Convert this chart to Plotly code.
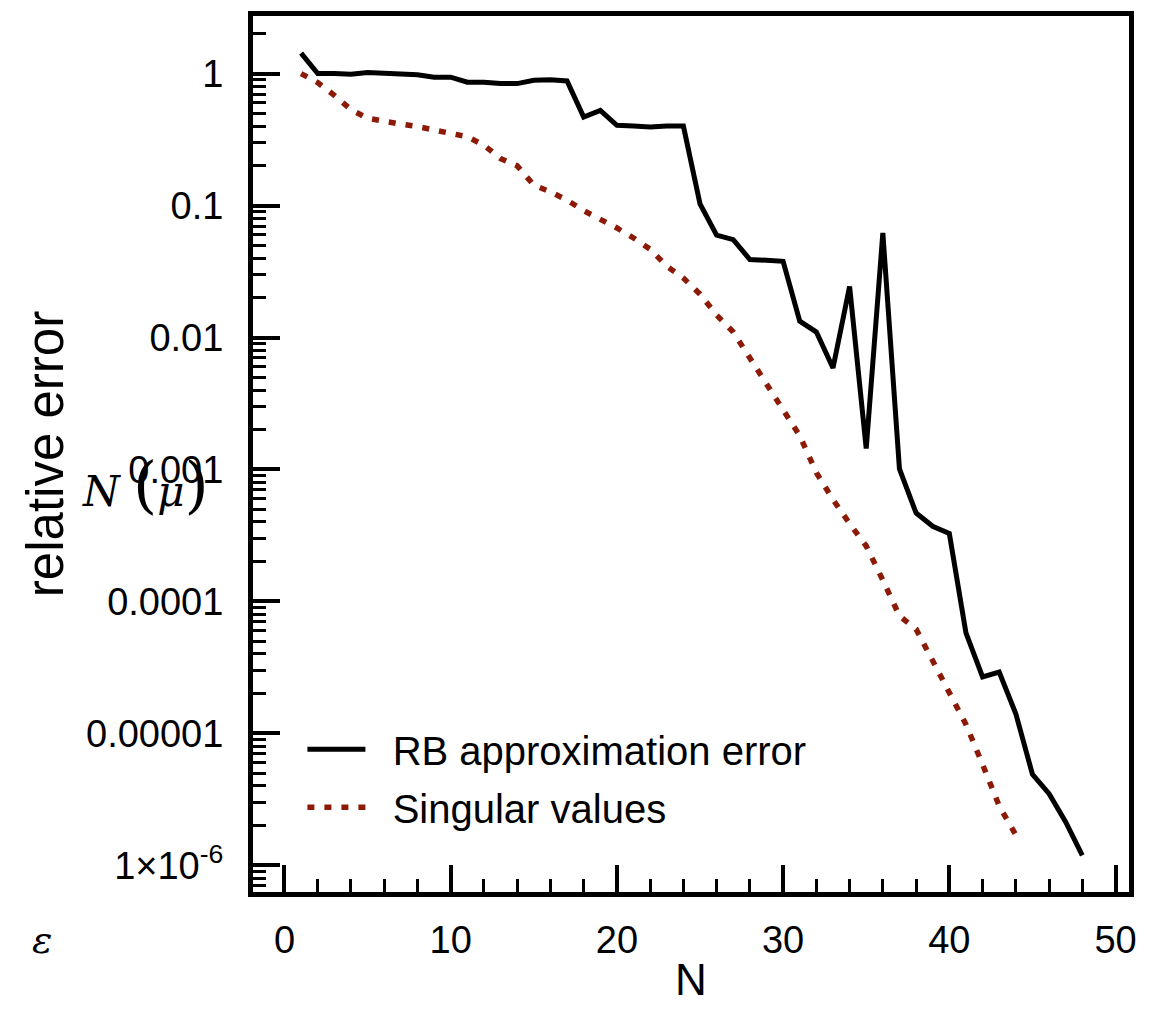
import plotly.graph_objects as go

# ---- data ----
n_rb = list(range(1, 49))
rb_error = [1.43, 1.0, 1.0, 0.99, 1.02, 1.01, 0.99, 0.98, 0.94, 0.94,
            0.86, 0.86, 0.84, 0.84, 0.89, 0.90, 0.88, 0.469, 0.527, 0.406,
            0.40, 0.394, 0.40, 0.40, 0.103, 0.0596, 0.0552, 0.039, 0.0385, 0.0378,
            0.0133, 0.0110, 0.00588, 0.0244, 0.00144, 0.0619, 0.00101, 4.68e-4, 3.71e-4, 3.27e-4,
            5.77e-5, 2.68e-5, 2.92e-5, 1.41e-5, 4.9e-6, 3.49e-6, 2.13e-6, 1.19e-6]

n_sv = list(range(1, 45))
singular_values = [1.0, 0.855, 0.684, 0.533, 0.459, 0.431, 0.414, 0.397, 0.376, 0.357,
                   0.332, 0.287, 0.227, 0.200, 0.143, 0.127, 0.110, 0.0916, 0.0794, 0.0676,
                   0.0568, 0.0467, 0.0347, 0.0282, 0.0213, 0.0148, 0.0110, 0.00697, 0.00431, 0.00280,
                   0.00180, 0.000944, 0.000592, 0.000389, 0.000263, 0.000145, 7.76e-5, 6.17e-5, 3.55e-5, 2.09e-5,
                   1.17e-5, 5.82e-6, 2.82e-6, 1.70e-6]

y_tickvals = [1, 0.1, 0.01, 0.001, 0.0001, 0.00001, 0.000001]
y_ticktext = ["1", "0.1", "0.01", "0.001", "0.0001", "0.00001", "1×10<sup>-6</sup>"]

FONT = "Liberation Sans, Arial, Helvetica, sans-serif"
NB = "\u00a0"

# page offset of the figure (default body margin of the html page)
OFF = 8
W, H = 1156 - OFF, 1013 - OFF
L, R, T, B = 253 - OFF, 26.5, 15.7 - OFF, 121.3
PW, PH = W - L - R, H - T - B


def px_to_paper(px, py):
    # px, py are page pixel positions
    return (px - OFF - L) / PW, (H - B - (py - OFF)) / PH


fig = go.Figure()
fig.add_trace(go.Scatter(
    x=n_rb, y=rb_error, mode="lines", name=NB * 2 + "RB approximation error",
    legendgroup="rb",
    line=dict(color="black", width=5),
))
fig.add_trace(go.Scatter(
    x=n_sv, y=singular_values, mode="lines", name=NB * 2 + "Singular values",
    legendgroup="sv",
    line=dict(color="#8c1a06", width=5.5, dash="7px,10px"),
))

ax1, ay1 = px_to_paper(145, 484)
ax2, ay2 = px_to_paper(42, 940)

fig.update_layout(
    width=W, height=H,
    margin=dict(l=L, r=R, t=T, b=B, autoexpand=False),
    paper_bgcolor="white", plot_bgcolor="white",
    font=dict(family=FONT, color="black", size=38),
    showlegend=True,
    legend=dict(
        x=0.0564, y=0.200, xanchor="left", yanchor="top",
        bgcolor="rgba(0,0,0,0)", borderwidth=0,
        font=dict(size=40, family=FONT, color="black"),
        itemwidth=58, tracegroupgap=3,
    ),
    annotations=[
        dict(text="<i>N</i>" + NB + "<span style='font-size:62px'>(</span><i>μ</i>"
                  "<span style='font-size:62px'>)</span>",
             x=ax1, y=ay1, xref="paper", yref="paper",
             xanchor="center", yanchor="middle", showarrow=False,
             font=dict(family="DejaVu Serif, serif", size=42, color="black")),
        dict(text="<i>ε</i>", x=ax2, y=ay2, xref="paper", yref="paper",
             xanchor="center", yanchor="middle", showarrow=False,
             font=dict(family="DejaVu Serif, serif", size=38, color="black")),
    ],
)

fig.update_xaxes(
    range=[-1.894, 50.81], tick0=0, dtick=10,
    showline=True, linewidth=5, linecolor="black", mirror=True,
    ticks="inside", ticklen=27, tickwidth=4, tickcolor="black",
    minor=dict(dtick=2, ticks="inside", ticklen=13, tickwidth=2.5, tickcolor="black", showgrid=False),
    showgrid=False, zeroline=False,
    tickfont=dict(size=38),
    ticklabelstandoff=10,
    title=dict(text="N", font=dict(size=44), standoff=6),
)
fig.update_yaxes(
    type="log", range=[-6.202, 0.4365],
    tickmode="array", tickvals=y_tickvals, ticktext=y_ticktext,
    showline=True, linewidth=5, linecolor="black", mirror=True,
    ticks="inside", ticklen=27, tickwidth=4, tickcolor="black",
    minor=dict(dtick="D1", ticks="inside", ticklen=13, tickwidth=2.5, tickcolor="black", showgrid=False),
    showgrid=False, zeroline=False,
    tickfont=dict(size=38),
    ticklabelstandoff=17,
    title=dict(text="relative error", font=dict(size=51), standoff=8),
)

fig.write_html("out.html")
